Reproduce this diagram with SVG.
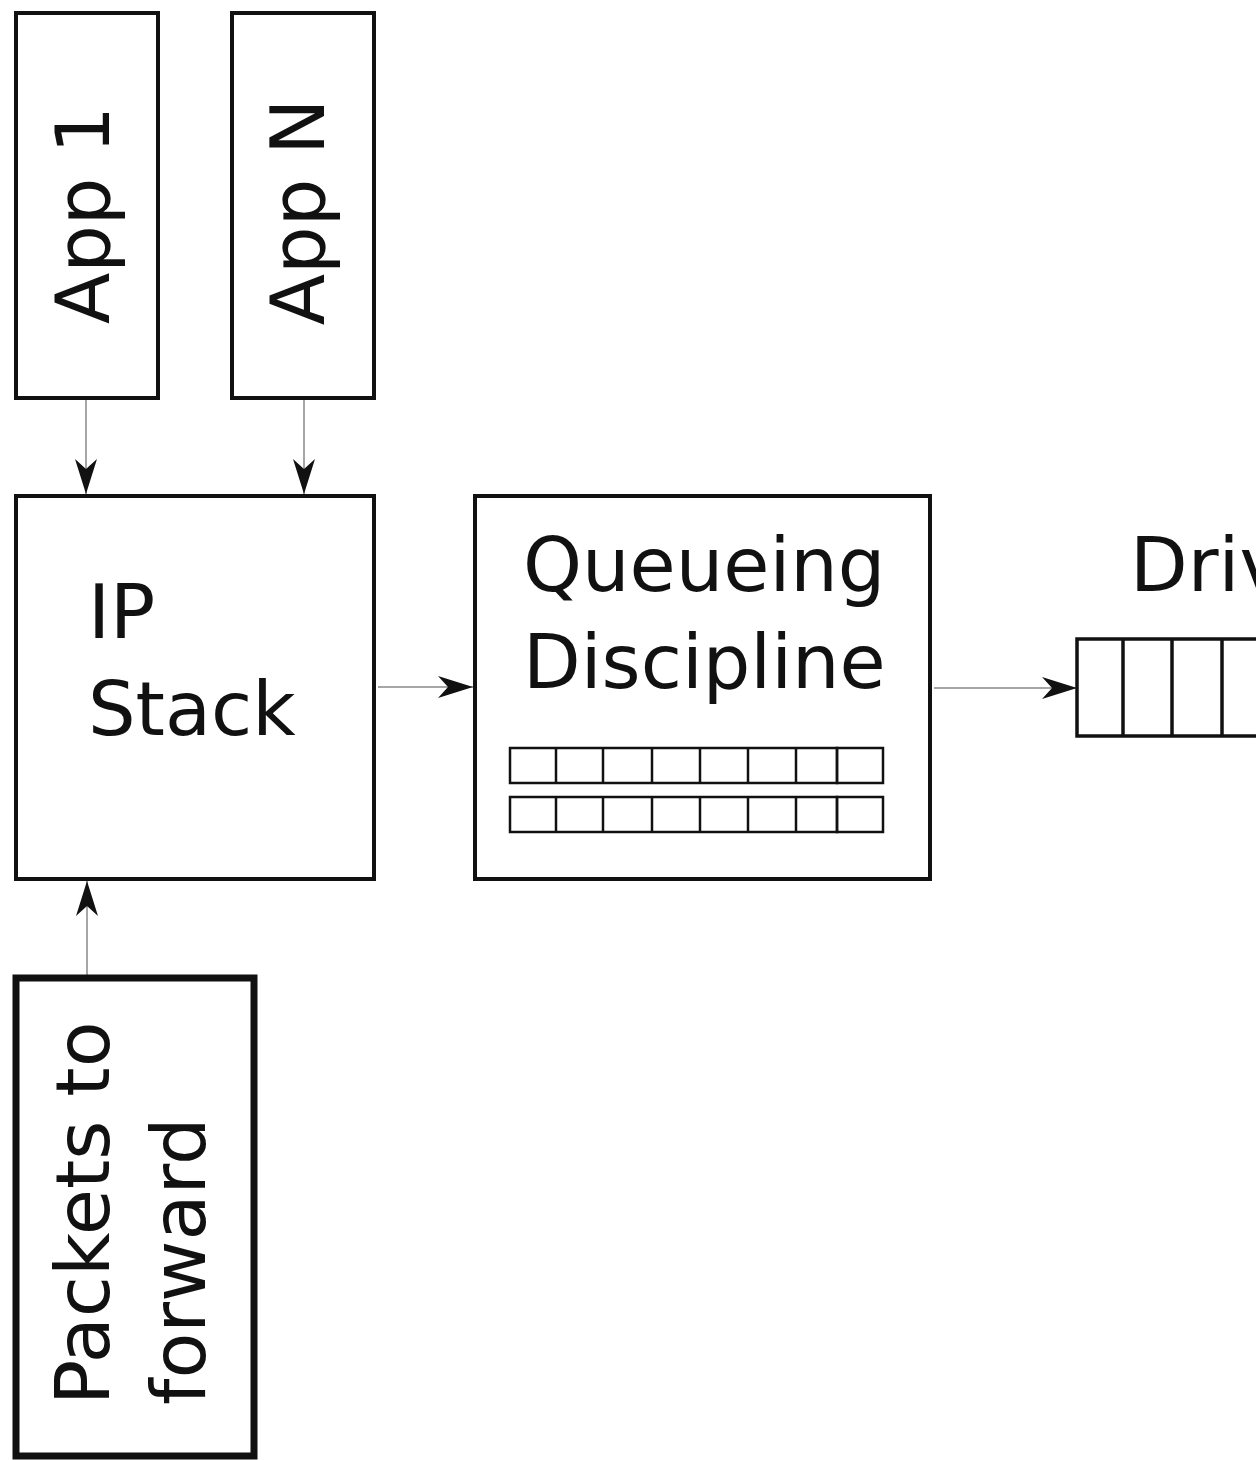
<svg xmlns="http://www.w3.org/2000/svg" width="1256" height="1460" viewBox="0 0 1256 1460">
  <style>
    .box { fill: #fff; stroke: #111; stroke-width: 4; }
    .thick { stroke-width: 7; }
    .cell { fill: none; stroke: #111; stroke-width: 2.5; }
    .label { font-family: "DejaVu Sans", "Liberation Sans", sans-serif; font-size: 75px; fill: #111; }
    .wire { fill: none; stroke: #888; stroke-width: 1.5; marker-end: url(#head); }
  </style>
  <defs>
    <marker id="head" viewBox="-36 -12 37 24" refX="0" refY="0" markerWidth="37" markerHeight="24" markerUnits="userSpaceOnUse" orient="auto">
      <path d="M0,0 L-35,-11 L-25,0 L-35,11 Z" fill="#111"/>
    </marker>
  </defs>
  <rect width="1256" height="1460" fill="#fff"/>

  <g id="connectors">
    <line class="wire" x1="86" y1="400" x2="86" y2="494"/>
    <line class="wire" x1="304" y1="400" x2="304" y2="494"/>
    <line class="wire" x1="87" y1="975" x2="87" y2="881"/>
    <line class="wire" x1="378" y1="687" x2="473" y2="687"/>
    <line class="wire" x1="934" y1="688" x2="1077" y2="688"/>
  </g>

  <g id="app1">
    <rect class="box" x="16" y="13" width="142" height="385"/>
    <text class="label" text-anchor="middle" transform="translate(109,215) rotate(-90)">App 1</text>
  </g>

  <g id="appN">
    <rect class="box" x="232" y="13" width="142" height="385"/>
    <text class="label" text-anchor="middle" transform="translate(324,212) rotate(-90)">App N</text>
  </g>

  <g id="ip-stack">
    <rect class="box" x="16" y="496" width="358" height="383"/>
    <text class="label" x="88" y="638">IP</text>
    <text class="label" x="88" y="735">Stack</text>
  </g>

  <g id="qdisc">
    <rect class="box" x="475" y="496" width="455" height="383"/>
    <text class="label" x="523" y="591">Queueing</text>
    <text class="label" x="523" y="688">Discipline</text>
    <g id="qdisc-row1">
      <rect class="cell" x="510" y="748" width="327" height="35"/>
      <line class="cell" x1="556" y1="748" x2="556" y2="783"/>
      <line class="cell" x1="603" y1="748" x2="603" y2="783"/>
      <line class="cell" x1="652" y1="748" x2="652" y2="783"/>
      <line class="cell" x1="700" y1="748" x2="700" y2="783"/>
      <line class="cell" x1="748" y1="748" x2="748" y2="783"/>
      <line class="cell" x1="796" y1="748" x2="796" y2="783"/>
      <rect class="cell" x="837" y="748" width="46" height="35"/>
    </g>
    <g id="qdisc-row2">
      <rect class="cell" x="510" y="797" width="327" height="35"/>
      <line class="cell" x1="556" y1="797" x2="556" y2="832"/>
      <line class="cell" x1="603" y1="797" x2="603" y2="832"/>
      <line class="cell" x1="652" y1="797" x2="652" y2="832"/>
      <line class="cell" x1="700" y1="797" x2="700" y2="832"/>
      <line class="cell" x1="748" y1="797" x2="748" y2="832"/>
      <line class="cell" x1="796" y1="797" x2="796" y2="832"/>
      <rect class="cell" x="837" y="797" width="46" height="35"/>
    </g>
  </g>

  <g id="driver">
    <text class="label" x="1130" y="591">Driv</text>
    <rect class="box" style="stroke-width:3.5" x="1077" y="639" width="240" height="97"/>
    <line class="box" style="stroke-width:3.5" x1="1123" y1="639" x2="1123" y2="736"/>
    <line class="box" style="stroke-width:3.5" x1="1172" y1="639" x2="1172" y2="736"/>
    <line class="box" style="stroke-width:3.5" x1="1222" y1="639" x2="1222" y2="736"/>
  </g>

  <g id="forward">
    <rect class="box thick" x="16" y="978" width="238" height="478"/>
    <text class="label" transform="translate(109,1405) rotate(-90)">Packets to</text>
    <text class="label" transform="translate(205,1405) rotate(-90)">forward</text>
  </g>
</svg>
